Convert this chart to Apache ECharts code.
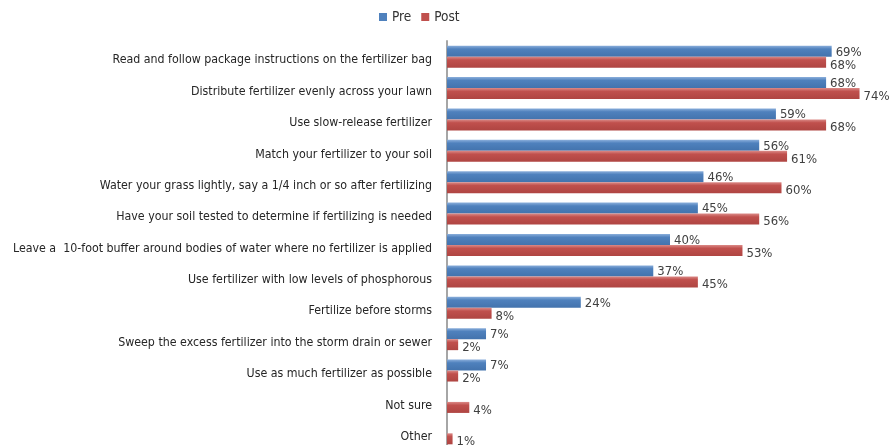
<!DOCTYPE html>
<html><head><meta charset="utf-8">
<script src="https://cdn.jsdelivr.net/npm/echarts@6/dist/echarts.min.js"></script>
<style>html,body{margin:0;padding:0;background:#fff}#c{width:889px;height:445px}</style>
</head><body><div id="c"></div>
<script>
const categories = [
  "Read and follow package instructions on the fertilizer bag",
  "Distribute fertilizer evenly across your lawn",
  "Use slow-release fertilizer",
  "Match your fertilizer to your soil",
  "Water your grass lightly, say a 1/4 inch or so after fertilizing",
  "Have your soil tested to determine if fertilizing is needed",
  "Leave a  10-foot buffer around bodies of water where no fertilizer is applied",
  "Use fertilizer with low levels of phosphorous",
  "Fertilize before storms",
  "Sweep the excess fertilizer into the storm drain or sewer",
  "Use as much fertilizer as possible",
  "Not sure",
  "Other"
];
const preValues = [69, 68, 59, 56, 46, 45, 40, 37, 24, 7, 7, 0, 0];
const postValues = [68, 74, 68, 61, 60, 56, 53, 45, 8, 2, 2, 4, 1];

const font = "'DejaVu Sans Condensed', 'Liberation Sans Narrow', sans-serif";
function grad(top, mid, bot) {
  return new echarts.graphic.LinearGradient(0, 0, 0, 1, [
    {offset: 0, color: top}, {offset: 0.3, color: mid}, {offset: 1, color: bot}
  ]);
}
const lbl = {
  show: true, position: 'right', distance: 4,
  fontFamily: font, fontSize: 13, color: '#404040',
  formatter: p => p.value ? p.value + '%' : ''
};
const chart = echarts.init(document.getElementById('c'));
chart.setOption({
  animation: false,
  legend: {
    top: 5, left: 374, itemWidth: 8, itemHeight: 8, itemGap: 10,
    icon: 'rect',
    textStyle: {fontFamily: font, fontSize: 13.5, color: '#333'},
    data: [{name: 'Pre', itemStyle: {color: '#4F81BD'}}, {name: 'Post', itemStyle: {color: '#C0504D'}}]
  },
  grid: {left: 447, top: 41, width: 446, height: 408, containLabel: false, outerBoundsMode: 'none'},
  xAxis: {
    type: 'value', min: 0, max: 80, show: false
  },
  yAxis: {
    type: 'category', inverse: true, data: categories,
    axisLine: {show: true, lineStyle: {color: '#A6A6A6', width: 2}},
    axisTick: {show: false},
    axisLabel: {fontFamily: font, fontSize: 12.3, color: '#262626', margin: 15,
                verticalAlign: 'top', lineHeight: 7}
  },
  series: [
    {name: 'Pre', type: 'bar', data: preValues, barWidth: 11, barGap: '0%',
     itemStyle: {color: grad('#8AAEDB', '#4F81BD', '#4373AD'), borderWidth: 0},
     label: Object.assign({}, lbl, {offset: [0, 1]})},
    {name: 'Post', type: 'bar', data: postValues, barWidth: 11,
     itemStyle: {color: grad('#DB8A87', '#C0504D', '#AF4542'), borderWidth: 0},
     label: Object.assign({}, lbl, {offset: [0, 3]})}
  ]
});
</script></body></html>
